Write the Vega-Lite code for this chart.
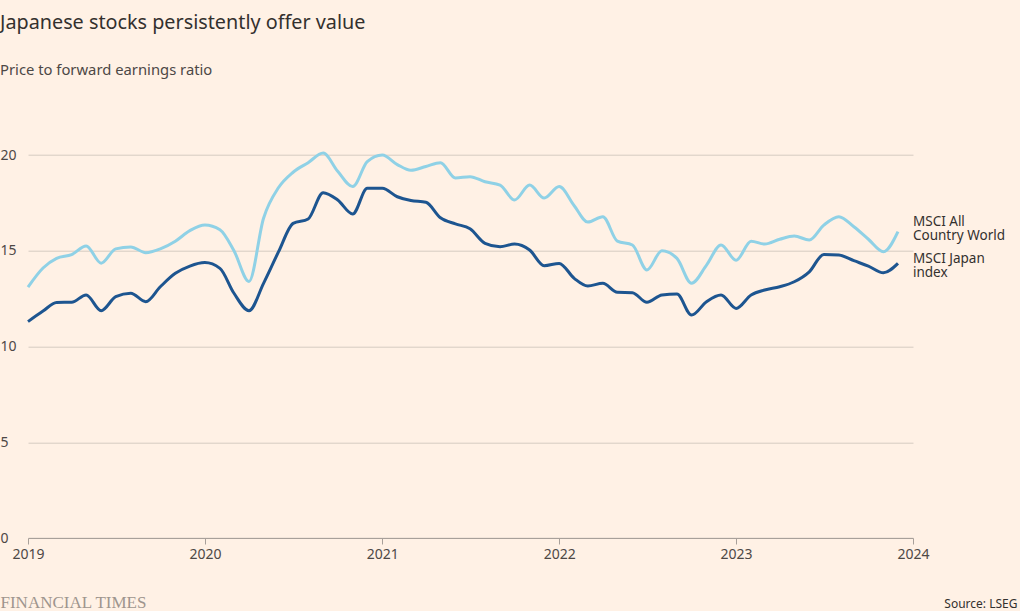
{
  "$schema": "https://vega.github.io/schema/vega-lite/v6.json",
  "autosize": {"type": "none"},
  "padding": {"left": 28, "top": 116.7, "right": 107, "bottom": 73},
  "width": 885,
  "height": 421.3,
  "background": "#fff1e5",
  "title": {
    "text": "Japanese stocks persistently offer value",
    "subtitle": "Price to forward earnings ratio",
    "anchor": "start",
    "frame": "bounds",
    "offset": 39,
    "font": "Noto Sans",
    "fontSize": 19.8,
    "fontWeight": "normal",
    "color": "#33302e",
    "subtitleFont": "Noto Sans",
    "subtitleFontSize": 14.8,
    "subtitleColor": "#4d4845",
    "subtitlePadding": 30
  },
  "datasets": {
    "series": [
      {"date": "2019-01-01", "series": "MSCI All Country World", "value": 13.1},
      {"date": "2019-02-01", "series": "MSCI All Country World", "value": 14.1},
      {"date": "2019-03-01", "series": "MSCI All Country World", "value": 14.6},
      {"date": "2019-04-01", "series": "MSCI All Country World", "value": 14.8},
      {"date": "2019-05-01", "series": "MSCI All Country World", "value": 15.25},
      {"date": "2019-06-01", "series": "MSCI All Country World", "value": 14.35},
      {"date": "2019-07-01", "series": "MSCI All Country World", "value": 15.1},
      {"date": "2019-08-01", "series": "MSCI All Country World", "value": 15.2},
      {"date": "2019-09-01", "series": "MSCI All Country World", "value": 14.9},
      {"date": "2019-10-01", "series": "MSCI All Country World", "value": 15.1},
      {"date": "2019-11-01", "series": "MSCI All Country World", "value": 15.5},
      {"date": "2019-12-01", "series": "MSCI All Country World", "value": 16.05},
      {"date": "2020-01-01", "series": "MSCI All Country World", "value": 16.35},
      {"date": "2020-02-01", "series": "MSCI All Country World", "value": 16.1},
      {"date": "2020-03-01", "series": "MSCI All Country World", "value": 15.0},
      {"date": "2020-04-01", "series": "MSCI All Country World", "value": 13.4},
      {"date": "2020-05-01", "series": "MSCI All Country World", "value": 16.7},
      {"date": "2020-06-01", "series": "MSCI All Country World", "value": 18.3},
      {"date": "2020-07-01", "series": "MSCI All Country World", "value": 19.1},
      {"date": "2020-08-01", "series": "MSCI All Country World", "value": 19.6},
      {"date": "2020-09-01", "series": "MSCI All Country World", "value": 20.1},
      {"date": "2020-10-01", "series": "MSCI All Country World", "value": 19.15},
      {"date": "2020-11-01", "series": "MSCI All Country World", "value": 18.35},
      {"date": "2020-12-01", "series": "MSCI All Country World", "value": 19.65},
      {"date": "2021-01-01", "series": "MSCI All Country World", "value": 20.0},
      {"date": "2021-02-01", "series": "MSCI All Country World", "value": 19.5},
      {"date": "2021-03-01", "series": "MSCI All Country World", "value": 19.2},
      {"date": "2021-04-01", "series": "MSCI All Country World", "value": 19.4},
      {"date": "2021-05-01", "series": "MSCI All Country World", "value": 19.6},
      {"date": "2021-06-01", "series": "MSCI All Country World", "value": 18.8},
      {"date": "2021-07-01", "series": "MSCI All Country World", "value": 18.87},
      {"date": "2021-08-01", "series": "MSCI All Country World", "value": 18.6},
      {"date": "2021-09-01", "series": "MSCI All Country World", "value": 18.43},
      {"date": "2021-10-01", "series": "MSCI All Country World", "value": 17.65},
      {"date": "2021-11-01", "series": "MSCI All Country World", "value": 18.43},
      {"date": "2021-12-01", "series": "MSCI All Country World", "value": 17.75},
      {"date": "2022-01-01", "series": "MSCI All Country World", "value": 18.35},
      {"date": "2022-02-01", "series": "MSCI All Country World", "value": 17.35},
      {"date": "2022-03-01", "series": "MSCI All Country World", "value": 16.5},
      {"date": "2022-04-01", "series": "MSCI All Country World", "value": 16.78},
      {"date": "2022-05-01", "series": "MSCI All Country World", "value": 15.5},
      {"date": "2022-06-01", "series": "MSCI All Country World", "value": 15.3},
      {"date": "2022-07-01", "series": "MSCI All Country World", "value": 14.0},
      {"date": "2022-08-01", "series": "MSCI All Country World", "value": 15.0},
      {"date": "2022-09-01", "series": "MSCI All Country World", "value": 14.6},
      {"date": "2022-10-01", "series": "MSCI All Country World", "value": 13.3},
      {"date": "2022-11-01", "series": "MSCI All Country World", "value": 14.25},
      {"date": "2022-12-01", "series": "MSCI All Country World", "value": 15.3},
      {"date": "2023-01-01", "series": "MSCI All Country World", "value": 14.5},
      {"date": "2023-02-01", "series": "MSCI All Country World", "value": 15.5},
      {"date": "2023-03-01", "series": "MSCI All Country World", "value": 15.35},
      {"date": "2023-04-01", "series": "MSCI All Country World", "value": 15.6},
      {"date": "2023-05-01", "series": "MSCI All Country World", "value": 15.77},
      {"date": "2023-06-01", "series": "MSCI All Country World", "value": 15.56},
      {"date": "2023-07-01", "series": "MSCI All Country World", "value": 16.34},
      {"date": "2023-08-01", "series": "MSCI All Country World", "value": 16.78},
      {"date": "2023-09-01", "series": "MSCI All Country World", "value": 16.25},
      {"date": "2023-10-01", "series": "MSCI All Country World", "value": 15.6},
      {"date": "2023-11-01", "series": "MSCI All Country World", "value": 14.95},
      {"date": "2023-12-01", "series": "MSCI All Country World", "value": 16.0},
      {"date": "2019-01-01", "series": "MSCI Japan index", "value": 11.3},
      {"date": "2019-02-01", "series": "MSCI Japan index", "value": 11.85},
      {"date": "2019-03-01", "series": "MSCI Japan index", "value": 12.3},
      {"date": "2019-04-01", "series": "MSCI Japan index", "value": 12.31},
      {"date": "2019-05-01", "series": "MSCI Japan index", "value": 12.69},
      {"date": "2019-06-01", "series": "MSCI Japan index", "value": 11.87},
      {"date": "2019-07-01", "series": "MSCI Japan index", "value": 12.6},
      {"date": "2019-08-01", "series": "MSCI Japan index", "value": 12.78},
      {"date": "2019-09-01", "series": "MSCI Japan index", "value": 12.34},
      {"date": "2019-10-01", "series": "MSCI Japan index", "value": 13.12},
      {"date": "2019-11-01", "series": "MSCI Japan index", "value": 13.82},
      {"date": "2019-12-01", "series": "MSCI Japan index", "value": 14.2},
      {"date": "2020-01-01", "series": "MSCI Japan index", "value": 14.38},
      {"date": "2020-02-01", "series": "MSCI Japan index", "value": 14.08},
      {"date": "2020-03-01", "series": "MSCI Japan index", "value": 12.78},
      {"date": "2020-04-01", "series": "MSCI Japan index", "value": 11.87},
      {"date": "2020-05-01", "series": "MSCI Japan index", "value": 13.3},
      {"date": "2020-06-01", "series": "MSCI Japan index", "value": 14.95},
      {"date": "2020-07-01", "series": "MSCI Japan index", "value": 16.43},
      {"date": "2020-08-01", "series": "MSCI Japan index", "value": 16.66},
      {"date": "2020-09-01", "series": "MSCI Japan index", "value": 18.03},
      {"date": "2020-10-01", "series": "MSCI Japan index", "value": 17.65},
      {"date": "2020-11-01", "series": "MSCI Japan index", "value": 16.92},
      {"date": "2020-12-01", "series": "MSCI Japan index", "value": 18.26},
      {"date": "2021-01-01", "series": "MSCI Japan index", "value": 18.26},
      {"date": "2021-02-01", "series": "MSCI Japan index", "value": 17.82},
      {"date": "2021-03-01", "series": "MSCI Japan index", "value": 17.62},
      {"date": "2021-04-01", "series": "MSCI Japan index", "value": 17.53},
      {"date": "2021-05-01", "series": "MSCI Japan index", "value": 16.72},
      {"date": "2021-06-01", "series": "MSCI Japan index", "value": 16.4},
      {"date": "2021-07-01", "series": "MSCI Japan index", "value": 16.15},
      {"date": "2021-08-01", "series": "MSCI Japan index", "value": 15.39},
      {"date": "2021-09-01", "series": "MSCI Japan index", "value": 15.21},
      {"date": "2021-10-01", "series": "MSCI Japan index", "value": 15.35},
      {"date": "2021-11-01", "series": "MSCI Japan index", "value": 15.04},
      {"date": "2021-12-01", "series": "MSCI Japan index", "value": 14.22},
      {"date": "2022-01-01", "series": "MSCI Japan index", "value": 14.34},
      {"date": "2022-02-01", "series": "MSCI Japan index", "value": 13.56},
      {"date": "2022-03-01", "series": "MSCI Japan index", "value": 13.16},
      {"date": "2022-04-01", "series": "MSCI Japan index", "value": 13.3},
      {"date": "2022-05-01", "series": "MSCI Japan index", "value": 12.83},
      {"date": "2022-06-01", "series": "MSCI Japan index", "value": 12.81},
      {"date": "2022-07-01", "series": "MSCI Japan index", "value": 12.31},
      {"date": "2022-08-01", "series": "MSCI Japan index", "value": 12.69},
      {"date": "2022-09-01", "series": "MSCI Japan index", "value": 12.74},
      {"date": "2022-10-01", "series": "MSCI Japan index", "value": 11.64},
      {"date": "2022-11-01", "series": "MSCI Japan index", "value": 12.34},
      {"date": "2022-12-01", "series": "MSCI Japan index", "value": 12.69},
      {"date": "2023-01-01", "series": "MSCI Japan index", "value": 11.99},
      {"date": "2023-02-01", "series": "MSCI Japan index", "value": 12.69},
      {"date": "2023-03-01", "series": "MSCI Japan index", "value": 12.95},
      {"date": "2023-04-01", "series": "MSCI Japan index", "value": 13.12},
      {"date": "2023-05-01", "series": "MSCI Japan index", "value": 13.38},
      {"date": "2023-06-01", "series": "MSCI Japan index", "value": 13.9},
      {"date": "2023-07-01", "series": "MSCI Japan index", "value": 14.81},
      {"date": "2023-08-01", "series": "MSCI Japan index", "value": 14.78},
      {"date": "2023-09-01", "series": "MSCI Japan index", "value": 14.48},
      {"date": "2023-10-01", "series": "MSCI Japan index", "value": 14.2},
      {"date": "2023-11-01", "series": "MSCI Japan index", "value": 13.85},
      {"date": "2023-12-01", "series": "MSCI Japan index", "value": 14.34}
    ],
    "labels": [
      {"date": "2023-12-01", "series": "MSCI All Country World", "value": 16.0, "text": ["MSCI All", "Country World"]},
      {"date": "2023-12-01", "series": "MSCI Japan index", "value": 14.34, "text": ["MSCI Japan", "index"]}
    ]
  },
  "layer": [
    {
      "data": {"name": "series"},
      "mark": {"type": "line", "interpolate": "monotone", "strokeWidth": 3, "clip": false},
      "encoding": {
        "x": {
          "field": "date",
          "type": "temporal",
          "scale": {"domain": ["2019-01-01", "2024-01-01"]},
          "axis": {
            "title": "Source: LSEG",
            "titleX": 989,
            "titleY": 69,
            "titleAlign": "right",
            "titleAnchor": null,
            "titleBaseline": "alphabetic",
            "titleFont": "Noto Sans",
            "titleFontSize": 12,
            "titleFontWeight": "normal",
            "titleColor": "#33302e",
            "format": "%Y",
            "tickCount": {"interval": "year", "step": 1},
            "grid": false,
            "domainColor": "#a8a09a",
            "tickColor": "#a8a09a",
            "tickSize": 6,
            "labelPadding": 3,
            "labelFont": "Noto Sans",
            "labelFontSize": 14,
            "labelColor": "#4d4845",
            "labelFlush": false
          }
        },
        "y": {
          "field": "value",
          "type": "quantitative",
          "scale": {"domain": [0, 22], "nice": false},
          "axis": {
            "title": "FINANCIAL TIMES",
            "titleX": -28,
            "titleY": 490.3,
            "titleAngle": 0,
            "titleAlign": "left",
            "titleAnchor": null,
            "titleBaseline": "alphabetic",
            "titleFont": "Liberation Serif",
            "titleFontSize": 17,
            "titleFontWeight": "normal",
            "titleColor": "#9e958e",
            "values": [0, 5, 10, 15, 20],
            "domain": false,
            "ticks": false,
            "grid": true,
            "gridColor": "#d6cbc1",
            "labelAlign": "left",
            "labelBaseline": "middle",
            "labelPadding": 28,
            "labelFont": "Noto Sans",
            "labelFontSize": 14,
            "labelColor": "#4d4845"
          }
        },
        "color": {
          "field": "series",
          "type": "nominal",
          "scale": {"domain": ["MSCI All Country World", "MSCI Japan index"], "range": ["#8fd1e6", "#1d5590"]},
          "legend": null
        }
      }
    },
    {
      "data": {"name": "labels"},
      "transform": [{"filter": "datum.series == 'MSCI All Country World'"}],
      "mark": {"type": "text", "align": "left", "baseline": "middle", "dx": 15, "dy": -10, "font": "Noto Sans", "fontSize": 13.5, "lineHeight": 14, "color": "#33302e"},
      "encoding": {
        "x": {"field": "date", "type": "temporal"},
        "y": {"field": "value", "type": "quantitative"},
        "text": {"field": "text"}
      }
    },
    {
      "data": {"name": "labels"},
      "transform": [{"filter": "datum.series == 'MSCI Japan index'"}],
      "mark": {"type": "text", "align": "left", "baseline": "middle", "dx": 15, "dy": -4.5, "font": "Noto Sans", "fontSize": 13.5, "lineHeight": 14, "color": "#33302e"},
      "encoding": {
        "x": {"field": "date", "type": "temporal"},
        "y": {"field": "value", "type": "quantitative"},
        "text": {"field": "text"}
      }
    }
  ],
  "config": {"view": {"stroke": null}}
}
